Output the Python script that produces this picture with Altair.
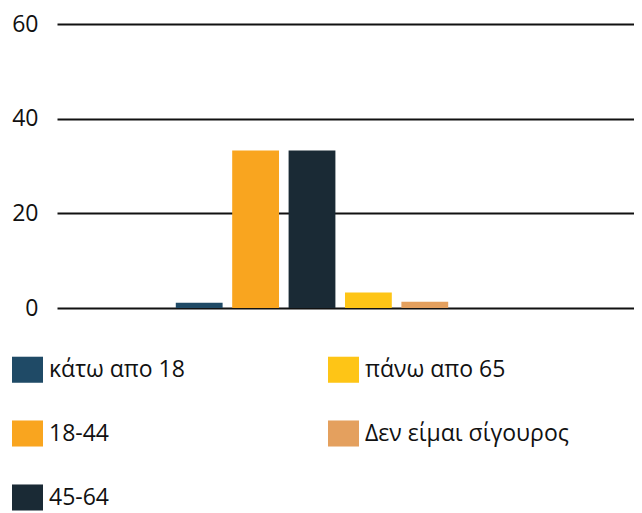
import altair as alt
import pandas as pd

categories = ["κάτω απο 18", "18-44", "45-64", "πάνω απο 65", "Δεν είμαι σίγουρος"]
values = [1.1, 33.3, 33.3, 3.3, 1.3]
colors = ["#1F4A66", "#F9A51F", "#1A2A35", "#FEC516", "#E4A05E"]
y_ticks = [0, 20, 40, 60]

df = pd.DataFrame({"cat": categories, "val": values})

FONT = "Open Sans"

chart = alt.Chart(df).mark_bar().transform_calculate(
    grp="'all'"
).encode(
    x=alt.X("grp:N", axis=None, scale=alt.Scale(paddingInner=0, paddingOuter=0)),
    xOffset=alt.XOffset("cat:N", sort=categories,
                        scale=alt.Scale(range=[114, 396], paddingInner=0.17, paddingOuter=0.085)),
    y=alt.Y("val:Q", scale=alt.Scale(domain=[0, 60], nice=False),
            axis=alt.Axis(values=y_ticks, title=None, domain=False, ticks=False,
                          tickSize=0, labelPadding=19, labelFontSize=23,
                          labelFont=FONT, labelColor="#111111",
                          grid=True, gridColor="#111111", gridWidth=2)),
    color=alt.Color("cat:N",
                    scale=alt.Scale(domain=categories, range=colors),
                    legend=alt.Legend(title=None, orient="none", legendX=-45, legendY=330,
                                      columns=2, symbolType="M-1,-0.84H1V0.84H-1Z",
                                      symbolSize=961, symbolStrokeWidth=0,
                                      labelFontSize=23, labelFont=FONT, labelColor="#111111",
                                      labelOffset=6, rowPadding=35, columnPadding=143,
                                      labelLimit=400, padding=0)),
).properties(
    width=577,
    height=284,
    autosize=alt.AutoSizeParams(type="none"),
    padding={"left": 49, "top": 16, "right": 0, "bottom": 205},
).configure_view(stroke=None)

chart.save("out.html", embed_options={"renderer": "svg", "actions": False})
